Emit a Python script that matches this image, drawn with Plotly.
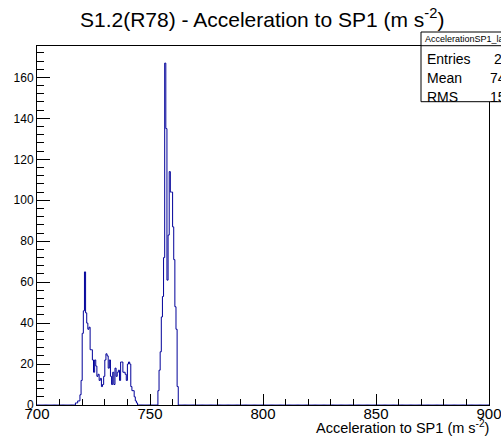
import numpy as np
import plotly.graph_objects as go

# ---- data (bin width 0.5, counts) ----
bin_width = 0.5
x_min, x_max = 700.0, 900.0
cluster1_start = 717.0
cluster1_counts = [1, 1, 2, 2, 5, 12, 35, 46, 65, 45, 40, 37, 38, 27, 27, 22, 16, 22, 19, 14,
                   15, 12, 13, 9, 10, 14, 22, 25, 24, 18, 22, 14, 10, 16, 10, 18, 14, 16, 17, 12,
                   21, 21, 16, 16, 15, 12, 20, 21, 20, 9, 7, 7, 4, 2, 1]
cluster2_start = 753.5
cluster2_counts = [7, 17, 26, 43, 53, 72, 167, 135, 61, 83, 114, 104, 104, 87, 71, 48, 37, 9]

x_ticks = [700, 750, 800, 850, 900]
y_ticks = [0, 20, 40, 60, 80, 100, 120, 140, 160]
title_text = "S1.2(R78) - Acceleration to SP1 (m s<sup>-2</sup>)"
x_title = "Acceleration to SP1 (m s<sup>-2</sup>)"
stats_name = "AccelerationSP1_lab"

# ---- build histogram ----
edges = np.arange(x_min, x_max + bin_width / 2, bin_width)
counts = np.zeros(len(edges) - 1)
i1 = int(round((cluster1_start - x_min) / bin_width))
counts[i1:i1 + len(cluster1_counts)] = cluster1_counts
i2 = int(round((cluster2_start - x_min) / bin_width))
counts[i2:i2 + len(cluster2_counts)] = cluster2_counts
centers = (edges[:-1] + edges[1:]) / 2

N = counts.sum()
mean = (counts * centers).sum() / N
rms = np.sqrt((counts * (centers - mean) ** 2).sum() / N)

ymax = 1.05 * counts.max()

W, H = 501, 438
L, R, T, B = 37, 12, 46, 33
pw, ph = W - L - R, H - T - B

def px(xp):
    return (xp - L) / pw

def py(yp):
    return (H - B - yp) / ph

FONT = "Liberation Sans, Arial, sans-serif"
blue = "#000099"

fig = go.Figure()
fig.add_trace(go.Scatter(
    x=edges, y=np.append(counts, counts[-1]),
    mode="lines", line=dict(color=blue, width=1, shape="hv"),
    hoverinfo="skip", showlegend=False,
))

fig.update_layout(
    width=W, height=H, autosize=False,
    margin=dict(l=L, r=R, t=T, b=B, pad=0, autoexpand=False),
    paper_bgcolor="white", plot_bgcolor="white",
    font=dict(family=FONT, size=12, color="black"),
    showlegend=False,
)
fig.update_xaxes(
    range=[x_min, x_max], tickvals=x_ticks, ticktext=[str(v) for v in x_ticks],
    ticks="inside", ticklen=11, tickcolor="black", tickwidth=1,
    minor=dict(dtick=10, ticks="inside", ticklen=6, tickcolor="black", tickwidth=1),
    showline=True, linecolor="black", linewidth=1, mirror=True, automargin=False,
    showgrid=False, zeroline=False, tickfont=dict(size=15),
    ticklabeloverflow="allow", ticklabelstandoff=-5,
)
fig.update_yaxes(
    range=[0, ymax], tickvals=y_ticks, ticktext=[str(v) for v in y_ticks],
    ticks="inside", ticklen=13, tickcolor="black", tickwidth=1,
    minor=dict(dtick=4, ticks="inside", ticklen=7, tickcolor="black", tickwidth=1),
    showline=True, linecolor="black", linewidth=1, mirror=True, automargin=False,
    showgrid=False, zeroline=False, tickfont=dict(size=12), ticklabeloverflow="allow",
)

annotations = [
    dict(text=title_text, x=px(78), y=py(18), xref="paper", yref="paper", xanchor="left", yanchor="middle",
         showarrow=False, font=dict(size=21, family=FONT)),
    dict(text=x_title, x=px(491), y=py(427), xref="paper", yref="paper", xanchor="right", yanchor="middle",
         showarrow=False, font=dict(size=14.5, family=FONT)),
]

# stats box
bx0, bx1 = px(421), px(530)
by_top, by_sep, by_bot = py(32), py(45.7), py(101.7)
shapes = [
    dict(type="rect", xref="paper", yref="paper", x0=bx0, x1=bx1, y0=by_bot, y1=by_top,
         fillcolor="white", line=dict(color="black", width=1), layer="above"),
    dict(type="line", xref="paper", yref="paper", x0=bx0, x1=bx1, y0=by_sep, y1=by_sep,
         line=dict(color="black", width=1), layer="above"),
]
annotations.append(dict(text=stats_name, x=px(423), y=py(39), xref="paper", yref="paper",
                        xanchor="left", yanchor="middle", showarrow=False,
                        font=dict(size=9, family=FONT)))
rows = [("Entries", f"{int(N)}", 59), ("Mean", f"{mean:.1f}", 78.5), ("RMS", f"{rms:.2f}", 96.5)]
for lab, val, yy in rows:
    annotations.append(dict(text=lab, x=px(425), y=py(yy), xref="paper", yref="paper",
                            xanchor="left", yanchor="middle", showarrow=False,
                            font=dict(size=14, family=FONT)))
    annotations.append(dict(text=val, x=px(527), y=py(yy), xref="paper", yref="paper",
                            xanchor="right", yanchor="middle", showarrow=False,
                            font=dict(size=14, family=FONT)))

fig.update_layout(shapes=shapes, annotations=annotations)
fig.write_html("out.html", config={"displayModeBar": False},
               post_script="document.body.style.margin='0';document.body.style.overflow='hidden';")
